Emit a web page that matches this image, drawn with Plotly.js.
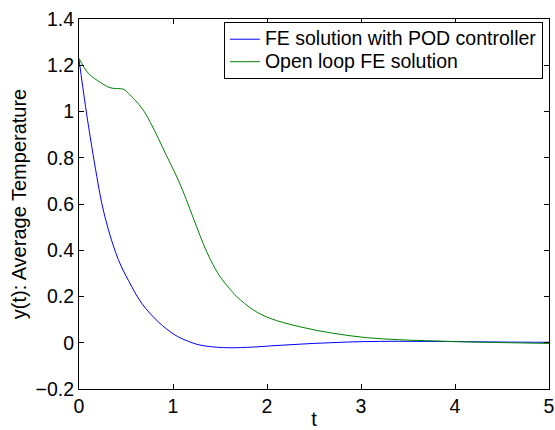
<!DOCTYPE html>
<html>
<head>
<meta charset="utf-8">
<script src="https://cdn.plot.ly/plotly-3.0.1.min.js"></script>
<style>html,body{margin:0;padding:0;background:#fff;}#chart{width:555px;height:430px;}</style>
</head>
<body>
<div id="chart"></div>
<script>
const seriesNames = ["FE solution with POD controller", "Open loop FE solution"];

const podT = [0, 0.07, 0.135, 0.19, 0.241, 0.312, 0.418, 0.525, 0.667, 0.844, 1.02, 1.128, 1.287, 1.535, 1.78, 2.14, 2.49, 2.85, 3.2, 3.6, 4.0, 4.5, 5.0];
const podY = [1.225, 1.02, 0.85, 0.718, 0.605, 0.49, 0.36, 0.27, 0.171, 0.09, 0.034, 0.012, -0.010, -0.021, -0.020, -0.011, -0.003, 0.003, 0.006, 0.006, 0.005, 0.003, 0.002];

const openT = [0, 0.1, 0.23, 0.33, 0.41, 0.47, 0.507, 0.59, 0.684, 0.76, 0.844, 0.93, 1.02, 1.10, 1.18, 1.25, 1.32, 1.40, 1.5, 1.6, 1.68, 1.854, 2.03, 2.35, 2.705, 3.06, 3.41, 3.77, 4.2, 4.6, 5.0];
const openY = [1.23, 1.165, 1.125, 1.103, 1.099, 1.097, 1.086, 1.052, 1.006, 0.952, 0.884, 0.81, 0.735, 0.662, 0.578, 0.503, 0.43, 0.358, 0.286, 0.235, 0.199, 0.142, 0.106, 0.069, 0.041, 0.022, 0.013, 0.008, 0.003, 0.0, -0.003];

const xTicks = [0, 1, 2, 3, 4, 5];
const yTicks = [-0.2, 0, 0.2, 0.4, 0.6, 0.8, 1, 1.2, 1.4];
const yTickText = ["\u22120.2", "0", "0.2", "0.4", "0.6", "0.8", "1", "1.2", "1.4"];

const fam = "Liberation Sans, Arial, Helvetica, sans-serif";
const font = {family: fam, size: 19.5, color: "#000"};
const titleFont = {family: fam, size: 20, color: "#000"};

function legendName(s) { return '<span style="font-size:19.5px">' + s + '</span>'; }

const traces = [
  {x: podT, y: podY, name: legendName(seriesNames[0]), type: "scatter", mode: "lines",
   line: {color: "rgb(0,0,255)", width: 1, shape: "spline", smoothing: 1}},
  {x: openT, y: openY, name: legendName(seriesNames[1]), type: "scatter", mode: "lines",
   line: {color: "rgb(0,128,0)", width: 1, shape: "spline", smoothing: 1}}
];

const layout = {
  width: 555, height: 430,
  margin: {l: 79, r: 6, t: 19, b: 41, pad: 0},
  paper_bgcolor: "#fff", plot_bgcolor: "#fff",
  font: font,
  showlegend: true,
  legend: {x: 0.987, y: 0.992, xanchor: "right", yanchor: "top",
           bgcolor: "#fff", bordercolor: "#000", borderwidth: 1,
           font: {family: fam, size: 15, color: "#000"},
           tracegroupgap: 0},
  xaxis: {range: [0, 5], tickvals: xTicks, ticktext: xTicks.map(String),
          ticks: "inside", ticklen: 5, tickcolor: "#000", tickwidth: 1,
          showline: true, linecolor: "#000", linewidth: 1, mirror: "allticks",
          showgrid: false, zeroline: false,
          tickfont: font,
          title: {text: "t", font: titleFont, standoff: 5}},
  yaxis: {range: [-0.2, 1.4], tickvals: yTicks, ticktext: yTickText,
          ticks: "inside", ticklen: 5, tickcolor: "#000", tickwidth: 1,
          showline: true, linecolor: "#000", linewidth: 1, mirror: "allticks",
          showgrid: false, zeroline: false,
          tickfont: font,
          title: {text: "y(t): Average Temperature", font: titleFont, standoff: 3}}
};

Plotly.newPlot("chart", traces, layout, {displayModeBar: false, staticPlot: true});
</script>
</body>
</html>
